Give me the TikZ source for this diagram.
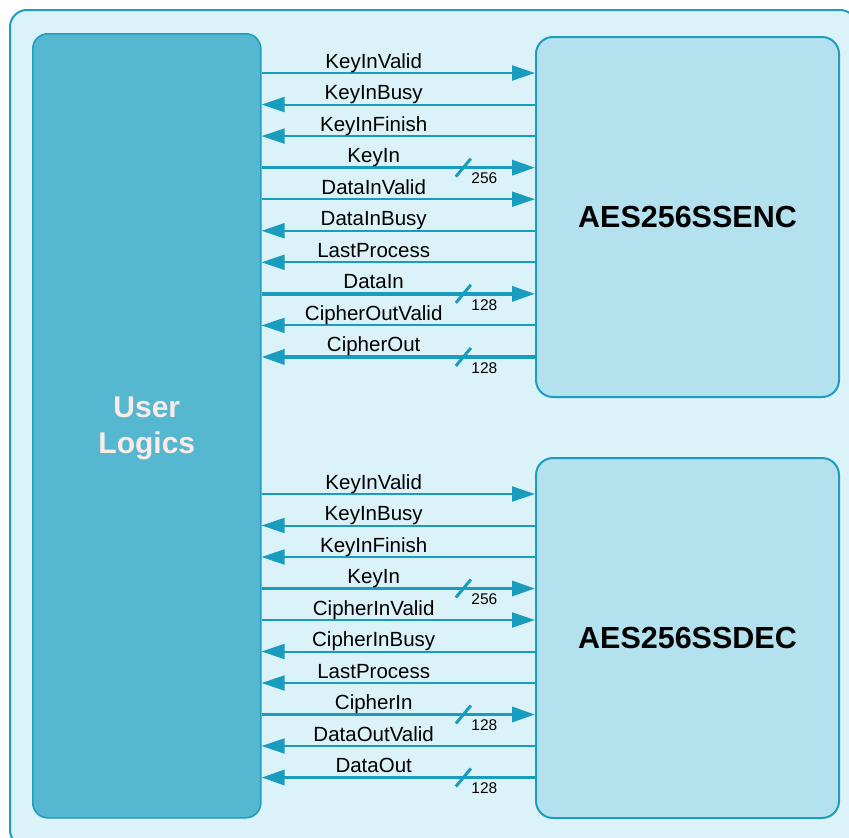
\documentclass[tikz,border=0pt]{standalone}
\usepackage{fontspec}
\setmainfont{Liberation Sans}
\usepackage{tikz}
\usetikzlibrary{arrows.meta, positioning, calc}
\definecolor{FrameBlue}{HTML}{1E9DBF}
\definecolor{BackBlue}{HTML}{DAF2F8}
\definecolor{LogicBlue}{HTML}{55B7D0}
\definecolor{CoreBlue}{HTML}{B3E1EE}
\definecolor{WireBlue}{HTML}{1A9CBE}
\definecolor{LogicText}{HTML}{FCEBE6}
\tikzset{
  logic/.style={rectangle, rounded corners=15pt, draw=FrameBlue, line width=1.6pt,
    fill=LogicBlue, minimum width=228pt, minimum height=784pt,
    font=\fontsize{30}{36}\selectfont\bfseries, text=LogicText, align=center},
  blk/.style={rectangle, rounded corners=17pt, draw=FrameBlue, line width=2pt,
    fill=CoreBlue, minimum width=303pt, minimum height=360pt,
    font=\fontsize{30.5}{34}\selectfont\bfseries, text=black},
  sig/.style={draw=WireBlue, line width=2pt},
  bus/.style={draw=WireBlue, line width=3.4pt},
  fwd/.style={-{Triangle[length=23pt, width=15pt]}},
  back/.style={{Triangle[length=23pt, width=15pt]}-},
  lbl/.style={pos=.41, anchor=base, yshift=5pt, inner sep=0pt,
    font=\fontsize{20.5}{20.5}\selectfont},
  num/.style={inner sep=0pt, font=\fontsize{15.5}{15.5}\selectfont},
  slash/.style={draw=WireBlue, line width=3pt},
}
\begin{document}
\begin{tikzpicture}[x=1pt, y=-1pt]
  \useasboundingbox (0,0) rectangle (849,838);
  \draw[draw=FrameBlue, line width=2pt, fill=BackBlue, rounded corners=17pt]
    (10,10) rectangle (857,847);
  \node[logic, anchor=north west] (ul) at (32,33) {};
  \node[text=LogicText, font=\fontsize{30}{36}\selectfont\bfseries, align=center]
    (ultxt) at ($(ul.center)+(0,3)$) {User\\Logics};
  \node[blk, anchor=north west] (enc) at (535,36) {AES256SSENC};
  \node[blk, anchor=north west] (dec) at (535,457) {AES256SSDEC};
  % encoder side
  \foreach \i/\txt/\dir/\w in {0/KeyInValid/fwd/0, 1/KeyInBusy/back/0,
      2/KeyInFinish/back/0, 3/KeyIn/fwd/256, 4/DataInValid/fwd/0,
      5/DataInBusy/back/0, 6/LastProcess/back/0, 7/DataIn/fwd/128,
      8/CipherOutValid/back/0, 9/CipherOut/back/128}{
    \pgfmathsetmacro\y{73+31.55*\i}
    \ifnum\w>0
      \draw[bus, \dir] (ul.east |- 0,\y) -- node[lbl]{\txt}
        coordinate[pos=.738] (s) (enc.west |- 0,\y);
      \draw[slash] ($(s)+(-7.5,9)$) -- ($(s)+(7.5,-9)$);
      \node[num] at ($(s)+(21,11)$) {\w};
    \else
      \draw[sig, \dir] (ul.east |- 0,\y) -- node[lbl]{\txt} (enc.west |- 0,\y);
    \fi
  }
  % decoder side
  \foreach \i/\txt/\dir/\w in {0/KeyInValid/fwd/0, 1/KeyInBusy/back/0,
      2/KeyInFinish/back/0, 3/KeyIn/fwd/256, 4/CipherInValid/fwd/0,
      5/CipherInBusy/back/0, 6/LastProcess/back/0, 7/CipherIn/fwd/128,
      8/DataOutValid/back/0, 9/DataOut/back/128}{
    \pgfmathsetmacro\y{494+31.5*\i}
    \ifnum\w>0
      \draw[bus, \dir] (ul.east |- 0,\y) -- node[lbl]{\txt}
        coordinate[pos=.738] (s) (dec.west |- 0,\y);
      \draw[slash] ($(s)+(-7.5,9)$) -- ($(s)+(7.5,-9)$);
      \node[num] at ($(s)+(21,11)$) {\w};
    \else
      \draw[sig, \dir] (ul.east |- 0,\y) -- node[lbl]{\txt} (dec.west |- 0,\y);
    \fi
  }
\end{tikzpicture}
\end{document}
